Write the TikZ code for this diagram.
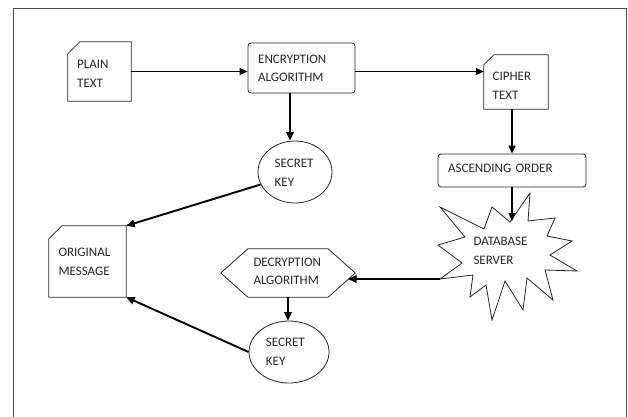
\documentclass[tikz,border=0pt]{standalone}
\usepackage{fontspec}
\setmainfont{Carlito}
\usetikzlibrary{shapes.geometric,arrows.meta}
\begin{document}
\begin{tikzpicture}[x=1pt,y=-1pt,
  outline/.style={draw=black!85, line width=0.8pt},
  anchorbox/.style={rectangle, inner sep=0pt, draw=none},
  roundbox/.style={rectangle, inner sep=0pt, draw=black!85, line width=0.8pt, rounded corners=3pt},
  ovalbox/.style={ellipse, inner sep=0pt, draw=black!85, line width=0.8pt},
  lbl/.style={font=\fontsize{13}{18.6}\selectfont, align=left, text width=110pt, inner sep=0pt, anchor=base west, text=black!85},
  thinarrow/.style={line width=1.1pt, -{Triangle[length=8pt,width=7pt]}},
  thickarrow/.style={line width=1.9pt, -{Triangle[length=8.5pt,width=7.5pt]}},
]
\useasboundingbox (0,0) rectangle (628,416);
% frame
\draw[black!70, line width=0.8pt] (13,420) -- (13,8) -- (626,8) -- (626,420);

% plain text (cut corner)
\node[anchorbox, minimum width=63, minimum height=59] (plain) at (99.5,71.5) {};
\draw[outline] (plain.south west) -- ([yshift=-12pt]plain.north west) -- ([xshift=12pt]plain.north west) -- (plain.north east) -- (plain.south east) -- cycle;
\node[lbl] (plainT) at (77,68.7) {PLAIN\\TEXT};

% encryption algorithm
\node[roundbox, minimum width=107, minimum height=50] (enc) at (301.5,68) {};
\node[lbl] (encT) at (258,63.3) {ENCRYPTION\\ALGORITHM};

% cipher text
\node[anchorbox, minimum width=64, minimum height=54] (cipher) at (516,82) {};
\draw[outline] (cipher.south west) -- ([yshift=-10pt]cipher.north west) -- ([xshift=10pt]cipher.north west) -- (cipher.north east) -- (cipher.south east) -- cycle;
\node[lbl] (cipherT) at (492.5,80.7) {CIPHER\\TEXT};

% ascending order
\node[roundbox, minimum width=148, minimum height=33] (asc) at (512,170.5) {};
\node[lbl] (ascT) at (448,172.7) {ASCENDING ORDER};

% secret key 1
\node[ovalbox, minimum width=74, minimum height=62] (sk1) at (295,172) {};
\node[lbl] (sk1T) at (274.5,167.7) {SECRET\\KEY};

% original message
\node[anchorbox, minimum width=77, minimum height=71] (orig) at (87.5,261.5) {};
\draw[outline] (orig.south west) -- ([yshift=-13pt]orig.north west) -- ([xshift=13pt]orig.north west) -- (orig.north east) -- (orig.south east) -- cycle;
\node[lbl] (origT) at (58.3,256.7) {ORIGINAL\\MESSAGE};

% decryption algorithm (hexagon)
\node[anchorbox, minimum width=134, minimum height=48] (dec) at (288,273) {};
\draw[outline] (dec.west) -- ([xshift=27pt]dec.north west) -- ([xshift=-27pt]dec.north east) -- (dec.east) -- ([xshift=-27pt]dec.south east) -- ([xshift=27pt]dec.south west) -- cycle;
\node[lbl] (decT) at (253.3,266) {DECRYPTION\\ALGORITHM};

% secret key 2
\node[ovalbox, minimum width=80, minimum height=62] (sk2) at (289,352) {};
\node[lbl] (sk2T) at (265.7,346.5) {SECRET\\KEY};

% database server (star)
\draw[outline] (440,207) -- (484,229) -- (492,207) -- (510,222) -- (530,193) -- (528,221) -- (555,218) -- (547,236) -- (572,241) -- (550,255) -- (577,271) -- (545,270) -- (553,300) -- (527,278) -- (523,310) -- (505,281) -- (492,320) -- (486,285) -- (470,297) -- (473,275) -- (440,279) -- (462,263) -- (438,245) -- (465,237) -- cycle;
\coordinate (dbtop) at (512,221);
\coordinate (dbleft) at (440,279);
\coordinate (decend) at (348,279);
\node[lbl] (dbT) at (473.3,245.7) {DATABASE\\SERVER};

% connectors
\draw[thinarrow] (plain.east) -- (plain.east -| enc.west);
\draw[thinarrow] (enc.east |- plain.east) -- (cipher.west |- plain.east);
\draw[thinarrow] (asc.north |- cipher.south) -- (asc.north);
\draw[thinarrow] (asc.south) -- (dbtop);
\draw[thickarrow] ([xshift=-11.5pt]enc.south) -- ([xshift=-11.5pt]enc.south |- sk1.north);
\draw[thickarrow] (sk1.200) -- (orig.north east);
\draw[thickarrow] (dbleft) -- (decend);
\draw[thickarrow] (dec.south) -- (dec.south |- sk2.north);
\draw[thickarrow] (sk2.west) -- (orig.south east);
\end{tikzpicture}
\end{document}
